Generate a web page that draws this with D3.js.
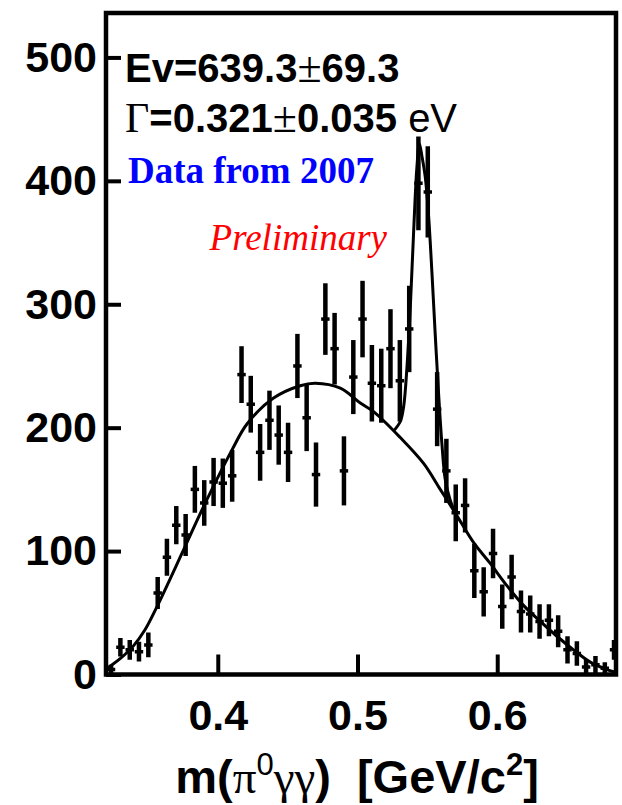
<!DOCTYPE html>
<html lang="en">
<head>
<meta charset="utf-8" />
<title>m(pi0 gamma gamma)</title>
<script src="https://cdn.jsdelivr.net/npm/d3@7"></script>
<style>
body { margin:0; background:#fff; }
.tk text { font-family:"Liberation Sans", Arial, sans-serif; font-weight:bold; font-size:43px; fill:#000; }
</style>
</head>
<body>
<div id="chart"></div>
<script type="text/javascript">
// bin centres (GeV/c^2), counts and errors
var mass = [0.3236,0.3303,0.3370,0.3436,0.3503,0.3570,0.3636,0.3703,0.3770,0.3836,
            0.3903,0.3970,0.4036,0.4103,0.4170,0.4236,0.4303,0.4370,0.4436,0.4503,
            0.4570,0.4636,0.4703,0.4770,0.4836,0.4903,0.4970,0.5036,0.5103,0.5170,
            0.5236,0.5303,0.5370,0.5436,0.5503,0.5570,0.5636,0.5703,0.5770,0.5836,
            0.5903,0.5970,0.6036,0.6103,0.6170,0.6236,0.6303,0.6370,0.6436,0.6503,
            0.6570,0.6636,0.6703,0.6770,0.6836];
var counts = [4,22,20,18.5,24,66,95,121,113,150,
              139,156,155,161,243,219,180,206,194,180,
              250,208,162,288,264,165,241,288,236,234,
              264,238,280,398,391,215,165,131,137,84,
              67,98,55,79,51,49,43,44,35,20,
              17,6,8,5,20];
var errors = [4,7.5,8,8,10,13,15,15.5,17,19,
              18.5,19.5,20,21,23,23,23,24,24,24,
              26,27,26,29,29,28,30,31,31,30,
              32,33,35,38,37,30,26,23,22,22,
              20,20,18,18,17,15,14,13,13,11,
              10,6,7,5,8];

// fitted background curve
var bgMass = [0.3209,0.3303,0.3395,0.3478,0.3565,0.3755,0.3898,0.4102,0.4209,0.4399,
              0.4590,0.4698,0.4877,0.5020,0.5115,0.5306,0.5473,0.5592,0.5699,0.5830,
              0.5950,0.6069,0.6188,0.6308,0.6427,0.6546,0.6666,0.6785,0.6857];
var bgVal  = [5,13,23,36,55,101,136,182,203,224,
              234,236,232,220,213,192,171,150,131,107,
              90,72,56,43,31,20,10,4,1.5];

// background + eta peak
var sigMass = [0.5256,0.5306,0.5330,0.5354,0.5378,0.5401,0.5425,0.5443,0.5461,0.5485,
               0.5509,0.5533,0.5556,0.5580,0.5604,0.5628,0.5664,0.5699];
var sigVal  = [197,205,217,249,298,357,411,430,420,403,
               371,325,276,228,187,158,141,131];

var xTicks = [0.4,0.5,0.6];
var yTicks = [0,100,200,300,400,500];

var W=622, H=805;
var L=106, R=616, T=13, B=674.5;

var svg = d3.select("#chart").append("svg")
    .attr("width",W)
    .attr("height",H);

var x = d3.scaleLinear().domain([0.32,0.685]).range([L,R]);
var y = d3.scaleLinear().domain([0,536]).range([B,T]);

svg.append("clipPath").attr("id","clip")
  .append("rect").attr("x",L).attr("y",T).attr("width",R-L).attr("height",B-T);

// axes (ticks point inward)
var xa = svg.append("g").attr("class","tk")
    .attr("transform","translate(0,"+B+")")
    .call(d3.axisBottom(x).tickValues(xTicks).tickFormat(d3.format(".1f"))
          .tickSizeInner(-20).tickSizeOuter(0).tickPadding(25));
var ya = svg.append("g").attr("class","tk")
    .attr("transform","translate("+L+",0)")
    .call(d3.axisLeft(y).tickValues(yTicks).tickFormat(d3.format("d"))
          .tickSizeInner(-15).tickSizeOuter(0).tickPadding(9));
svg.selectAll(".tk .domain").remove();
svg.selectAll(".tk line").attr("stroke","#000").attr("stroke-width",4);
svg.selectAll(".tk text").attr("font-size",null).attr("font-family",null);

var plot = svg.append("g").attr("clip-path","url(#clip)");

var line = d3.line()
    .x(function(d){ return x(d[0]); })
    .y(function(d){ return y(d[1]); })
    .curve(d3.curveCatmullRom.alpha(0.5));

plot.append("path")
    .attr("d",line(d3.zip(bgMass,bgVal)))
    .attr("fill","none").attr("stroke","#000").attr("stroke-width",3);
plot.append("path")
    .attr("d",line(d3.zip(sigMass,sigVal)))
    .attr("fill","none").attr("stroke","#000").attr("stroke-width",3);

// data points with error bars
var pts = d3.zip(mass,counts,errors);
var bw = x(0.32+0.0067)-x(0.32);
var pg = plot.selectAll("g.pt").data(pts).enter().append("g").attr("class","pt");
pg.append("line")
  .attr("x1",function(d){ return x(d[0]); })
  .attr("x2",function(d){ return x(d[0]); })
  .attr("y1",function(d){ return y(d[1]-d[2]); })
  .attr("y2",function(d){ return y(d[1]+d[2]); })
  .attr("stroke","#000").attr("stroke-width",4.5);
pg.append("line")
  .attr("x1",function(d){ return x(d[0])-bw*0.45; })
  .attr("x2",function(d){ return x(d[0])+bw*0.45; })
  .attr("y1",function(d){ return y(d[1]); })
  .attr("y2",function(d){ return y(d[1]); })
  .attr("stroke","#000").attr("stroke-width",3.5);

// frame
svg.append("rect")
   .attr("x",L).attr("y",T).attr("width",R-L).attr("height",B-T)
   .attr("fill","none").attr("stroke","#000").attr("stroke-width",4.5);

// annotations
var sans = "'Liberation Sans', Arial, sans-serif";
var serif = "'Liberation Serif', 'Times New Roman', serif";

var t1 = svg.append("text").attr("x",125).attr("y",82)
   .attr("font-family",sans).attr("font-weight","bold").attr("font-size",40).attr("fill","#000");
t1.append("tspan").text("Ev=639.3");
t1.append("tspan").attr("font-family",serif).attr("font-weight","normal").attr("font-size",44).text("\u00b1");
t1.append("tspan").text("69.3");

var t2 = svg.append("text").attr("x",125).attr("y",132)
   .attr("font-family",sans).attr("font-weight","bold").attr("font-size",40).attr("fill","#000");
t2.append("tspan").attr("font-family",serif).attr("font-weight","normal").attr("font-size",42).text("\u0393");
t2.append("tspan").text("=0.321");
t2.append("tspan").attr("font-family",serif).attr("font-weight","normal").attr("font-size",44).text("\u00b1");
t2.append("tspan").text("0.035 ");
t2.append("tspan").attr("font-weight","normal").text("eV");

svg.append("text").attr("x",128).attr("y",183)
   .attr("font-family",serif).attr("font-weight","bold").attr("font-size",37)
   .attr("fill","#0000ff").text("Data from 2007");

svg.append("text").attr("x",387).attr("y",250).attr("text-anchor","end")
   .attr("font-family",serif).attr("font-style","italic").attr("font-size",37)
   .attr("fill","#ff0000").text("Preliminary");

// x axis title
var xt = svg.append("text").attr("x",357).attr("y",793).attr("text-anchor","middle")
   .attr("font-family",sans).attr("font-weight","bold").attr("font-size",47).attr("fill","#000");
xt.append("tspan").text("m(");
xt.append("tspan").attr("font-family",serif).attr("font-weight","normal").text("\u03c0");
xt.append("tspan").attr("font-weight","normal").attr("font-size",31).attr("dy",-18).text("0");
xt.append("tspan").attr("font-family",serif).attr("font-weight","normal").attr("dy",18).text("\u03b3\u03b3");
xt.append("tspan").text(")\u00a0\u00a0[GeV/c");
xt.append("tspan").attr("font-size",31).attr("dy",-18).text("2");
xt.append("tspan").attr("dy",18).text("]");
</script>
</body>
</html>
